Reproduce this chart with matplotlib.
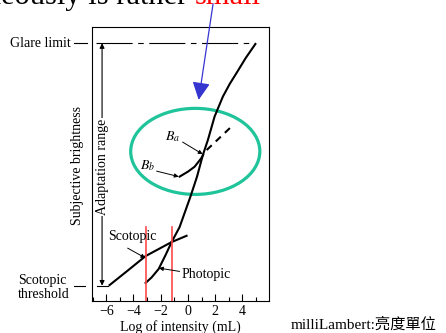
import matplotlib
matplotlib.use("Agg")
import matplotlib.pyplot as plt
from matplotlib.patches import Ellipse

plt.rcParams['font.family'] = ['Liberation Serif', 'Noto Sans CJK TC', 'DejaVu Sans']
plt.rcParams['mathtext.fontset'] = 'stix'
plt.rcParams['lines.scale_dashes'] = False

# curves (x = log intensity, y = subjective brightness, arbitrary 0..10)
photopic_x = [-3.11, -2.67, -2.15, -1.64, -1.2, -0.61, 0.2, 0.67, 1.10, 1.47, 1.96,
              2.57, 3.07, 3.56, 4.25, 4.96]
photopic_y = [0.66, 0.86, 1.17, 1.68, 2.15, 2.70, 3.83, 4.54, 5.33, 5.88, 6.73,
              7.46, 7.92, 8.31, 8.87, 9.38]
scotopic_x = [-5.76, -4.4, -3.11, -1.2, -0.1]
scotopic_y = [0.58, 1.12, 1.64, 2.15, 2.38]
bb_x = [-0.61, 0.0, 0.49, 0.98, 1.12]
bb_y = [4.54, 4.72, 4.90, 5.21, 5.33]
bb_dash_x = [1.38, 3.19]
bb_dash_y = [5.51, 6.36]
red_x = [-3.1, -1.15]
red_top = 2.71
glare_y = 9.41
glare_x = [-6.74, 4.96]
threshold_y = 0.56
threshold_x = [-6.69, -5.88]
xticks = [-6, -4, -2, 0, 2, 4]
xminor = [-7, -5, -3, -1, 1, 3, 5]

fig = plt.figure(figsize=(4.46, 3.33), dpi=100)
ax = fig.add_axes([92 / 446, 32 / 333, 177 / 446, 274 / 333])
ax.set_xlim(-7.05, 5.96)
ax.set_ylim(0, 10)

# main curves
ax.plot(photopic_x, photopic_y, color='black', lw=1.5)
ax.plot(scotopic_x, scotopic_y, color='black', lw=1.5)
ax.plot(bb_x, bb_y, color='black', lw=1.5)
ax.plot(bb_dash_x, bb_dash_y, color='black', lw=1.5, linestyle=(0, (5, 4)))

# glare limit and threshold lines
ax.plot(glare_x, [glare_y, glare_y], color='black', lw=0.8,
        linestyle=(0, (26, 4, 4, 4)))
ax.plot(threshold_x, [threshold_y, threshold_y], color='black', lw=0.8)

# red marker lines
for rx in red_x:
    ax.plot([rx, rx], [0, red_top], color='#ff4a4a', lw=1.2)

# adaptation range arrow
ax.annotate('', xy=(-6.31, glare_y), xytext=(-6.31, threshold_y),
            arrowprops=dict(arrowstyle='<|-|>', color='black', lw=0.8,
                            mutation_scale=7, shrinkA=0, shrinkB=0))
ax.text(-6.31, 4.89, 'Adaptation range', rotation=90, ha='center', va='center',
        fontsize=10, bbox=dict(facecolor='white', edgecolor='none', pad=0.5))

# ellipse highlight
ax.add_patch(Ellipse((0.54, 5.46), 9.49, 3.14, fill=False, edgecolor='#1fc49a', lw=2.3))

# small annotations
small_arrow = dict(arrowstyle='-|>', color='black', lw=0.7, mutation_scale=6,
                   shrinkA=0, shrinkB=0)
ax.annotate('', xy=(1.08, 5.36), xytext=(-0.39, 5.80), arrowprops=small_arrow)
ax.text(-1.13, 5.99, '$B_a$', ha='center', va='center', fontsize=10)
ax.annotate('', xy=(-0.68, 4.54), xytext=(-2.3, 4.74), arrowprops=small_arrow)
ax.text(-2.96, 4.93, '$B_b$', ha='center', va='center', fontsize=10)
ax.annotate('', xy=(-3.13, 1.57), xytext=(-4.43, 1.93), arrowprops=small_arrow)
ax.text(-4.06, 2.35, 'Scotopic', ha='center', va='center', fontsize=10)
ax.annotate('', xy=(-2.13, 1.20), xytext=(-0.61, 1.08), arrowprops=small_arrow)
ax.text(-0.49, 0.95, 'Photopic', ha='left', va='center', fontsize=10)

# blue pointer from the title
ax.annotate('', xy=(0.79, 7.34), xytext=(1.85, 10.85), annotation_clip=False,
            arrowprops=dict(arrowstyle='-|>,head_length=0.9,head_width=0.45',
                            color='#3535d0', lw=0.9, mutation_scale=12,
                            shrinkA=0, shrinkB=0))

# labels left of the axes
ax.text(-8.62, glare_y, 'Glare limit', ha='right', va='center', fontsize=10, clip_on=False)
ax.plot([-8.40, -7.45], [glare_y, glare_y], color='black', lw=0.8, clip_on=False)
ax.text(-12.5, 0.49, 'Scotopic\nthreshold', ha='left', va='center', fontsize=10,
        linespacing=1.05, clip_on=False)
ax.plot([-8.40, -7.55], [threshold_y, threshold_y], color='black', lw=0.8, clip_on=False)

# axes styling
ax.set_xticks(xticks)
ax.set_xticklabels(['\u2212' + str(-t) if t < 0 else str(t) for t in xticks])
ax.set_xticks(xminor, minor=True)
ax.set_yticks([])
ax.tick_params(axis='x', which='major', direction='in', length=5, width=0.8,
               labelsize=10, pad=3)
ax.tick_params(axis='x', which='minor', direction='in', length=3, width=0.8)
for s in ax.spines.values():
    s.set_linewidth(0.8)
ax.set_xlabel('Log of intensity (mL)', fontsize=10, labelpad=1)

fig.text(77 / 446, 1 - 165 / 333, 'Subjective brightness', rotation=90,
         ha='center', va='center', fontsize=10)

# clipped heading and footnote
fig.text(187 / 446, 1 - 4 / 333, 'simultaneously is rather', ha='right',
         va='baseline', fontsize=22)
fig.text(195 / 446, 1 - 4 / 333, 'small', ha='left', va='baseline',
         fontsize=22, color='red')
fig.text(291 / 446, 1 - 325 / 333, 'milliLambert:亮度單位', ha='left',
         va='center', fontsize=11)

plt.savefig('out.png', dpi=100)
